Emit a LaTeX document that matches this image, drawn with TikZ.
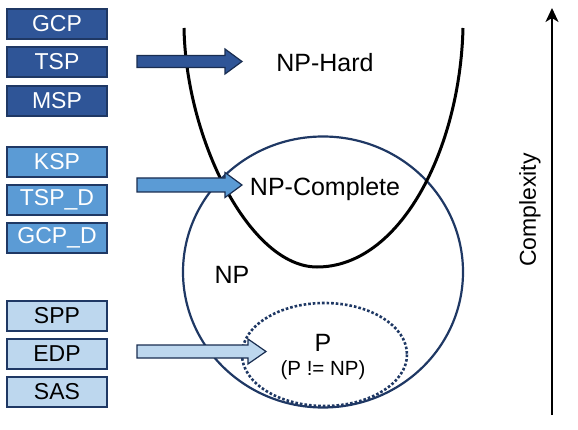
\documentclass[tikz,border=0pt]{standalone}
\usepackage{fontspec}
\setmainfont{Liberation Sans}
\usetikzlibrary{arrows.meta}
\definecolor{hardblue}{HTML}{2F5597}
\definecolor{compblue}{HTML}{5B9BD5}
\definecolor{pblue}{HTML}{BDD7EE}
\definecolor{navy}{HTML}{1F3864}
\tikzset{
  probbox/.style={draw=navy, line width=1.2pt, minimum width=100pt, minimum height=30pt, inner sep=0pt, font=\fontsize{23}{26}\selectfont},
  hardbox/.style={probbox, fill=hardblue, text=white},
  compbox/.style={probbox, fill=compblue, text=white},
  pbox/.style={probbox, fill=pblue, text=black},
  biglabel/.style={font=\fontsize{25}{28}\selectfont, inner sep=0pt},
  blockarrow/.style={draw=navy!80!black, line width=1.2pt, line join=miter}
}
\begin{document}
\begin{tikzpicture}[x=1pt, y=-1pt]
\useasboundingbox (0,0) rectangle (578,430);
% class regions
\draw[navy, line width=2.2pt] (323,272) ellipse [x radius=140, y radius=135.5];
\draw[navy, line width=2.6pt, dotted] (324.5,354.5) ellipse [x radius=82.5, y radius=51.5];
\draw[black, line width=3pt] (184,28) .. controls (186,140) and (250,267) .. (317,267)
   .. controls (400,267) and (460,150) .. (463,28);
% left boxes
\node[hardbox] (gcp) at (57,24) {GCP};
\node[hardbox] (tsp) at (57,62) {TSP};
\node[hardbox] (msp) at (57,101) {MSP};
\node[compbox] (ksp) at (57,162) {KSP};
\node[compbox] (tspd) at (57,200) {TSP\_D};
\node[compbox] (gcpd) at (57,238) {GCP\_D};
\node[pbox] (spp) at (57,316) {SPP};
\node[pbox] (edp) at (57,354) {EDP};
\node[pbox] (sas) at (57,392) {SAS};
% labels
\node[biglabel] (nphard) at (325,63) {NP-Hard};
\node[biglabel] (npc) at (325,189) {NP-Complete};
\node[biglabel] (np) at (232,275) {NP};
\node[biglabel] (p) at (323,343) {P};
\node[font=\fontsize{20.5}{23}\selectfont, inner sep=0pt] (pnp) at (323,370) {(P != NP)};
% block arrows
\draw[blockarrow, fill=hardblue] (137,55.5) -- (225,55.5) -- (225,49) -- (242,61.5) -- (225,74) -- (225,67.5) -- (137,67.5) -- cycle;
\draw[blockarrow, fill=compblue] (137,178) -- (225,178) -- (225,172.5) -- (242,185) -- (225,197.5) -- (225,192) -- (137,192) -- cycle;
\draw[blockarrow, fill=pblue] (137,345) -- (248,345) -- (248,339) -- (266,351.5) -- (248,364) -- (248,358) -- (137,358) -- cycle;
% complexity axis
\coordinate (axbot) at (552,415);
\coordinate (axtop) at (552,8);
\draw[line width=2pt, -{Stealth[length=14pt, width=13pt, inset=4pt]}] (axbot) -- (axtop);
\node[font=\fontsize{23}{26}\selectfont, inner sep=0pt, rotate=90] (cx) at (530,210) {Complexity};
\end{tikzpicture}
\end{document}
